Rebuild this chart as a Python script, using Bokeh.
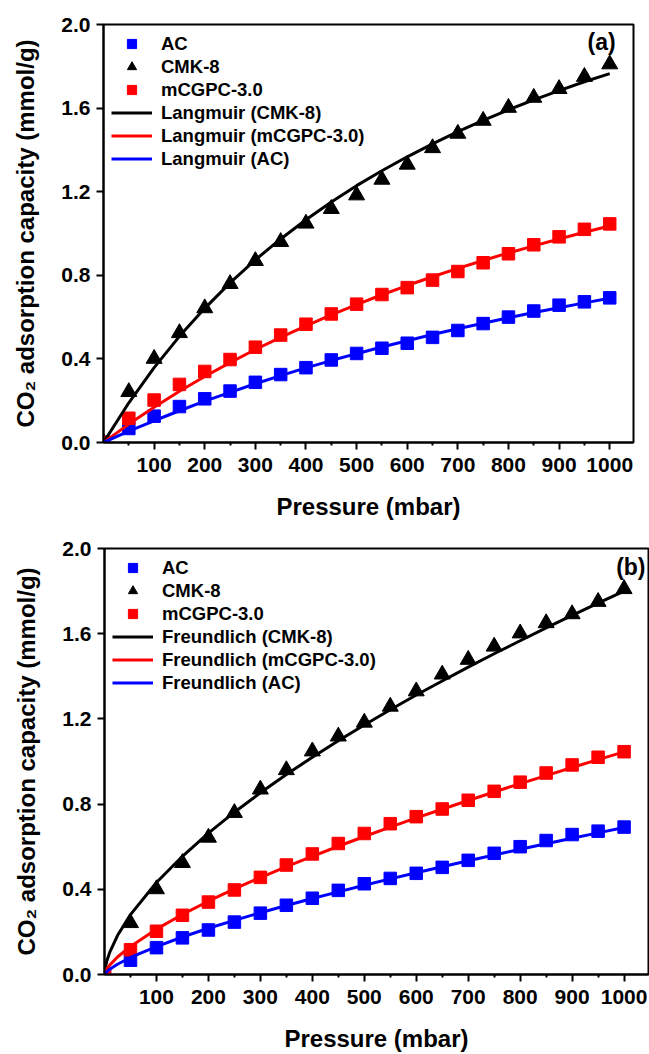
from bokeh.plotting import figure
from bokeh.models import FixedTicker, PrintfTickFormatter, Legend, LegendItem, Label, Range1d
from bokeh.embed import file_html
from bokeh.resources import INLINE

# ---------------- data ----------------
pressure = [0, 50, 100, 150, 200, 250, 300, 350, 400, 450, 500,
            550, 600, 650, 700, 750, 800, 850, 900, 950, 1000]
ac = [0.0, 0.067, 0.126, 0.172, 0.209, 0.246, 0.288, 0.325, 0.358, 0.395, 0.426,
      0.451, 0.475, 0.503, 0.536, 0.569, 0.600, 0.629, 0.657, 0.673, 0.692]
cmk8 = [0.0, 0.242, 0.401, 0.524, 0.643, 0.759, 0.869, 0.960, 1.048, 1.118, 1.183,
        1.258, 1.330, 1.409, 1.478, 1.540, 1.602, 1.650, 1.692, 1.750, 1.810]
mcgpc = [0.0, 0.116, 0.203, 0.278, 0.340, 0.397, 0.456, 0.514, 0.566, 0.615, 0.662,
         0.708, 0.741, 0.777, 0.818, 0.860, 0.903, 0.946, 0.984, 1.020, 1.046]

langmuir_p = [0, 50, 100, 150, 200, 250, 300, 350, 400, 450, 500,
              550, 600, 650, 700, 750, 800, 850, 900, 950, 1000]
langmuir_cmk8 = [0, 0.190, 0.358, 0.508, 0.642, 0.764, 0.874, 0.974, 1.066, 1.151, 1.229,
                 1.300, 1.367, 1.429, 1.487, 1.541, 1.592, 1.639, 1.684, 1.726, 1.765]
langmuir_mcgpc = [0, 0.088, 0.169, 0.245, 0.316, 0.382, 0.445, 0.503, 0.558, 0.611, 0.660,
                  0.707, 0.751, 0.793, 0.833, 0.871, 0.907, 0.941, 0.974, 1.006, 1.036]
langmuir_ac = [0, 0.054, 0.104, 0.152, 0.198, 0.240, 0.281, 0.320, 0.357, 0.392, 0.425,
               0.457, 0.487, 0.517, 0.544, 0.571, 0.597, 0.622, 0.645, 0.668, 0.690]

freundlich_p = [0, 2, 5, 10, 25, 50, 100, 150, 200, 250, 300, 350, 400, 450, 500,
                550, 600, 650, 700, 750, 800, 850, 900, 950, 1000]
freundlich_cmk8 = [0, 0.038, 0.067, 0.104, 0.183, 0.281, 0.432, 0.555, 0.664, 0.762, 0.853,
                   0.939, 1.020, 1.097, 1.171, 1.243, 1.312, 1.378, 1.443, 1.506, 1.567,
                   1.627, 1.686, 1.744, 1.800]
freundlich_mcgpc = [0, 0.014, 0.027, 0.044, 0.082, 0.132, 0.213, 0.282, 0.344, 0.402, 0.455,
                    0.506, 0.555, 0.602, 0.648, 0.692, 0.735, 0.776, 0.817, 0.857, 0.896,
                    0.934, 0.972, 1.009, 1.045]
freundlich_ac = [0, 0.008, 0.015, 0.025, 0.048, 0.080, 0.131, 0.176, 0.217, 0.254, 0.290,
                 0.324, 0.357, 0.388, 0.419, 0.449, 0.478, 0.506, 0.534, 0.561, 0.588,
                 0.614, 0.640, 0.665, 0.690]

x_ticks = [100, 200, 300, 400, 500, 600, 700, 800, 900, 1000]
x_minor = [50, 150, 250, 350, 450, 550, 650, 750, 850, 950]
y_ticks = [0.0, 0.4, 0.8, 1.2, 1.6, 2.0]

FONT = "Liberation Sans"
BLUE = "#0000FF"
RED = "#FF0000"
BLACK = "#000000"


def make_panel(fit_p, fit_cmk, fit_mc, fit_ac, model, tag, tag_x, tag_y,
               width, height, left, right, top, bottom):
    p = figure(width=width, height=height, output_backend="svg", toolbar_location=None,
               x_range=Range1d(0, 1047), y_range=Range1d(0, 2.0),
               min_border_left=left, min_border_right=right,
               min_border_top=top, min_border_bottom=bottom)
    p.background_fill_color = "white"
    p.border_fill_color = "white"
    p.xgrid.visible = False
    p.ygrid.visible = False
    p.outline_line_color = BLACK
    p.outline_line_width = 2

    p.xaxis.ticker = FixedTicker(ticks=x_ticks, minor_ticks=x_minor)
    p.yaxis.ticker = FixedTicker(ticks=y_ticks, minor_ticks=[])
    p.yaxis.formatter = PrintfTickFormatter(format="%.1f")
    for ax in (p.xaxis[0], p.yaxis[0]):
        ax.axis_line_width = 2
        ax.axis_line_color = BLACK
        ax.major_tick_line_width = 2
        ax.minor_tick_line_width = 2
        ax.major_tick_out = 7
        ax.major_tick_in = 0
        ax.minor_tick_out = 3
        ax.minor_tick_in = 0
        ax.major_label_text_font = FONT
        ax.major_label_text_font_style = "bold"
        ax.major_label_text_font_size = "21px"
        ax.major_label_text_color = BLACK
        ax.axis_label_text_font = FONT
        ax.axis_label_text_font_style = "bold"
        ax.axis_label_text_font_size = "24px"
        ax.axis_label_text_color = BLACK
    p.yaxis.minor_tick_out = 0
    p.xaxis.major_label_standoff = 8
    p.yaxis.major_label_standoff = 6
    p.xaxis.axis_label = "Pressure (mbar)"
    p.yaxis.axis_label = "CO\u2082 adsorption capacity (mmol/g)"
    p.xaxis.axis_label_standoff = 18
    p.yaxis.axis_label_standoff = 19

    r_ac = p.scatter(pressure, ac, marker="square", size=12.5, color=BLUE)
    r_cmk = p.scatter(pressure, cmk8, marker="triangle", size=16, color=BLACK)
    r_mc = p.scatter(pressure, mcgpc, marker="square", size=12.5, color=RED)
    l_cmk = p.line(fit_p, fit_cmk, line_width=3, color=BLACK)
    l_mc = p.line(fit_p, fit_mc, line_width=3, color=RED)
    l_ac = p.line(fit_p, fit_ac, line_width=3, color=BLUE)

    legend = Legend(items=[
        LegendItem(label="AC", renderers=[r_ac]),
        LegendItem(label="CMK-8", renderers=[r_cmk]),
        LegendItem(label="mCGPC-3.0", renderers=[r_mc]),
        LegendItem(label=f"{model} (CMK-8)", renderers=[l_cmk]),
        LegendItem(label=f"{model} (mCGPC-3.0)", renderers=[l_mc]),
        LegendItem(label=f"{model} (AC)", renderers=[l_ac]),
    ], location="top_left")
    legend.margin = 0
    legend.padding = 8
    legend.spacing = 0
    legend.glyph_height = 23
    legend.label_height = 23
    legend.glyph_width = 41
    legend.label_standoff = 9
    legend.label_text_font = FONT
    legend.label_text_font_style = "bold"
    legend.label_text_font_size = "18.5px"
    legend.label_text_color = BLACK
    legend.background_fill_alpha = 0
    legend.border_line_alpha = 0
    p.add_layout(legend)

    p.add_layout(Label(x=tag_x, y=tag_y, text=tag, text_align="center",
                       text_baseline="middle", text_font=FONT, text_font_style="bold",
                       text_font_size="23px", text_color=BLACK))
    return p


p1 = make_panel(langmuir_p, langmuir_cmk8, langmuir_mcgpc, langmuir_ac, "Langmuir",
                "(a)", 984, 1.915, 649, 527, 103, 16, 24, 85)
p2 = make_panel(freundlich_p, freundlich_cmk8, freundlich_mcgpc, freundlich_ac, "Freundlich",
                "(b)", 1013, 1.912, 649, 527, 104, 1, 21, 79)

open("out.html", "w").write(file_html([p1, p2], INLINE))
